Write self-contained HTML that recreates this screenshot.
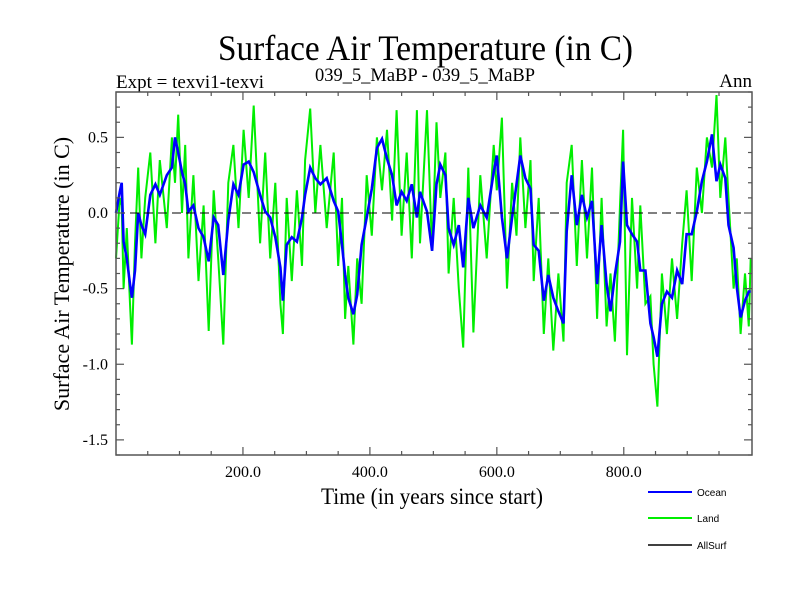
<!DOCTYPE html>
<html><head><meta charset="utf-8"><style>
body{margin:0;background:#fff}
svg{display:block}
.s{font-family:"Liberation Serif",serif}
.a{font-family:"Liberation Sans",sans-serif}
</style></head><body>
<svg id="c" width="800" height="600" xmlns="http://www.w3.org/2000/svg">
<text class="s" x="218" y="60" font-size="36" textLength="415" lengthAdjust="spacingAndGlyphs">Surface Air Temperature (in C)</text>
<text class="s" x="116" y="88" font-size="19" textLength="148" lengthAdjust="spacingAndGlyphs">Expt = texvi1-texvi</text>
<text class="s" x="315" y="81" font-size="19" textLength="220" lengthAdjust="spacingAndGlyphs">039_5_MaBP - 039_5_MaBP</text>
<text class="s" x="752" y="87" font-size="19" text-anchor="end">Ann</text>
<text class="s" x="0" y="0" font-size="22" text-anchor="middle" transform="translate(69,274) rotate(-90)">Surface Air Temperature (in C)</text>
<text class="s" x="321" y="504" font-size="23" textLength="222" lengthAdjust="spacingAndGlyphs">Time (in years since start)</text>
<g id="plot"></g>
<g>
<line x1="648" y1="492" x2="692" y2="492" stroke="#0000ff" stroke-width="2"/>
<text class="a" x="697" y="496" font-size="10">Ocean</text>
<line x1="648" y1="518" x2="692" y2="518" stroke="#00ee00" stroke-width="2"/>
<text class="a" x="697" y="522" font-size="10">Land</text>
<line x1="648" y1="545" x2="692" y2="545" stroke="#000" stroke-width="1.5"/>
<text class="a" x="697" y="549" font-size="10">AllSurf</text>
</g>
</svg>
<script>
const years=[0,6,9,12,17,22,25,30,35,40,46,54,62,69,80,88,93,98,104,109,114,122,130,138,146,154,161,169,177,185,193,201,209,217,227,235,243,251,259,263,269,277,285,293,298,306,314,322,332,343,350,356,361,366,374,380,387,395,403,411,419,427,435,442,450,458,466,474,479,490,498,505,511,519,524,532,540,547,555,563,574,584,595,600,608,616,624,631,637,645,653,658,666,674,681,689,697,705,710,718,726,734,742,750,758,765,773,779,786,794,799,805,813,821,826,834,842,847,853,860,868,876,884,892,899,907,915,923,931,939,946,952,960,965,973,978,984,991,997,1000];
const ocean=[0.0,0.14,0.2,-0.19,-0.3,-0.47,-0.56,-0.38,0,-0.08,-0.14,0.12,0.19,0.12,0.25,0.3,0.5,0.4,0.27,0.19,0.01,0.05,-0.1,-0.16,-0.32,-0.03,-0.08,-0.41,-0.05,0.19,0.12,0.32,0.34,0.27,0.12,0.01,-0.03,-0.16,-0.36,-0.58,-0.21,-0.16,-0.19,-0.03,0.12,0.3,0.23,0.19,0.23,0.08,0.01,-0.21,-0.41,-0.56,-0.67,-0.54,-0.21,-0.03,0.16,0.43,0.49,0.36,0.25,0.05,0.14,0.08,0.19,-0.03,0.14,0.01,-0.25,0.19,0.32,0.25,-0.1,-0.21,-0.08,-0.36,0.1,-0.1,0.05,-0.03,0.27,0.38,-0.03,-0.3,-0.03,0.19,0.38,0.23,0.16,-0.21,-0.25,-0.58,-0.41,-0.56,-0.65,-0.73,-0.12,0.25,-0.08,0.12,-0.03,0.08,-0.47,-0.08,-0.47,-0.65,-0.41,-0.19,0.34,-0.08,-0.14,-0.19,-0.38,-0.38,-0.73,-0.82,-0.95,-0.6,-0.52,-0.56,-0.38,-0.47,-0.14,-0.14,0.01,0.21,0.34,0.52,0.21,0.32,0.23,-0.08,-0.23,-0.49,-0.69,-0.58,-0.52,-0.52];
const land=[-0.3,0.1,0.05,-0.5,-0.1,-0.6,-0.87,-0.2,0.3,-0.3,0.1,0.4,-0.2,0.35,-0.1,0.5,0.2,0.65,0.0,0.45,-0.3,0.25,-0.45,0.05,-0.78,0.15,-0.3,-0.87,0.2,0.45,-0.1,0.55,0.1,0.71,-0.2,0.4,-0.3,0.2,-0.6,-0.8,0.1,-0.45,0.15,-0.35,0.35,0.69,0.0,0.45,-0.1,0.4,-0.35,0.1,-0.7,-0.35,-0.87,-0.3,-0.6,0.25,-0.15,0.5,0.15,0.55,-0.05,0.68,-0.15,0.4,-0.3,0.68,-0.2,0.68,-0.25,0.6,0.1,0.4,-0.4,0.1,-0.5,-0.89,0.3,-0.79,0.25,-0.3,0.45,0.15,0.63,-0.5,0.2,-0.15,0.5,-0.1,0.35,-0.45,0.1,-0.8,-0.3,-0.91,-0.4,-0.85,0.2,0.45,-0.35,0.35,-0.3,0.3,-0.7,0.1,-0.75,-0.4,-0.85,0.05,0.55,-0.94,0.1,-0.5,0.05,-0.6,-0.55,-1.0,-1.28,-0.4,-0.8,-0.3,-0.7,-0.2,0.15,-0.45,0.3,0.0,0.5,0.3,0.78,0.1,0.5,0.1,-0.5,-0.3,-0.8,-0.4,-0.75,-0.3];
const yTicks=[-1.5,-1.0,-0.5,0.0,0.5];
const yTickLabels=["-1.5","-1.0","-0.5","0.0","0.5"];
const xTicks=[200,400,600,800];
const xTickLabels=["200.0","400.0","600.0","800.0"];

const L=116,R=752,T=92,B=455,X0=0,X1=1002,Y0=-1.6,Y1=0.8;
const sx=v=>L+(v-X0)/(X1-X0)*(R-L);
const sy=v=>B-(v-Y0)/(Y1-Y0)*(B-T);
const NS="http://www.w3.org/2000/svg";
const g=document.getElementById('plot');
function mk(t,a){const e=document.createElementNS(NS,t);for(const k in a)e.setAttribute(k,a[k]);g.appendChild(e);return e;}
function pts(arr){return years.map((y,i)=>sx(y).toFixed(1)+','+sy(arr[i]).toFixed(1)).join(' ');}
let e;
e=mk('polyline',{points:pts(land),fill:'none',stroke:'#00ee00','stroke-width':2});


e=mk('polyline',{points:pts(ocean),fill:'none',stroke:'#0000ff','stroke-width':2.6});


e=mk('line',{x1:L,x2:R,y1:sy(0),y2:sy(0),stroke:'#000','stroke-width':1,'stroke-dasharray':'9,5'});


e=mk('rect',{x:L,y:T,width:R-L,height:B-T,fill:'none',stroke:'#555','stroke-width':1.5});


for(let k=-16;k<=8;k++){const v=k/10,y=sy(v),maj=Math.abs(v*2-Math.round(v*2))<1e-6,len=maj?8:4;
 e=mk('line',{x1:L,x2:L+len,y1:y,y2:y,stroke:'#555','stroke-width':1.2});
 
 
 e=mk('line',{x1:R-len,x2:R,y1:y,y2:y,stroke:'#555','stroke-width':1.2});
 
 }
for(let v=50;v<1000;v+=50){const x=sx(v),len=(v%200===0)?8:4;
 e=mk('line',{x1:x,x2:x,y1:B,y2:B-len,stroke:'#555','stroke-width':1.2});
 
 
 e=mk('line',{x1:x,x2:x,y1:T,y2:T+len,stroke:'#555','stroke-width':1.2});
 
 }
yTicks.forEach((v,i)=>{e=mk('text',{x:L-8,y:sy(v)+5,'font-size':16,'text-anchor':'end',class:'s'});e.textContent=yTickLabels[i];
 
 });
xTicks.forEach((v,i)=>{e=mk('text',{x:sx(v),y:B+22,'font-size':16,'text-anchor':'middle',class:'s'});e.textContent=xTickLabels[i];
 
 });
</script>
</body></html>
